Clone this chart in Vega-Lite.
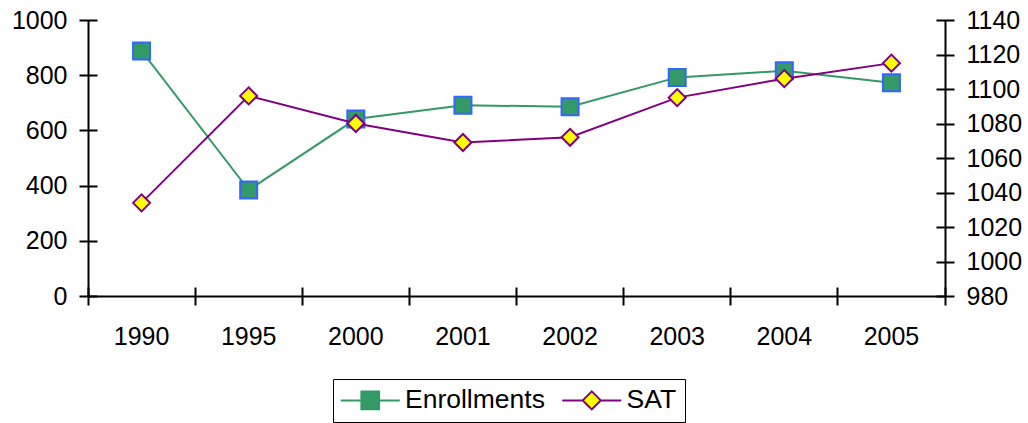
{
  "$schema": "https://vega.github.io/schema/vega-lite/v6.json",
  "width": 857,
  "height": 276,
  "autosize": "none",
  "padding": {"left": 88, "top": 20, "right": 83, "bottom": 127},
  "config": {
    "view": {"stroke": null},
    "font": "Liberation Sans",
    "axis": {
      "domainColor": "black", "domainWidth": 2, "tickColor": "black", "tickWidth": 2,
      "labelColor": "black", "labelFontSize": 25, "grid": false, "title": null
    },
    "legend": {
      "labelFontSize": 26.5, "labelColor": "black", "labelLimit": 500,
      "orient": "none", "legendX": 245, "legendY": 359, "direction": "horizontal",
      "strokeColor": "black", "padding": 8, "labelOffset": 21.5, "symbolOffset": 16, "columnPadding": 12.5,
      "symbolSize": 400, "symbolStrokeWidth": 2, "title": null
    }
  },
  "data": {
    "values": [
      {"year": "1990", "series": "Enrollments", "value": 888},
      {"year": "1995", "series": "Enrollments", "value": 384},
      {"year": "2000", "series": "Enrollments", "value": 641},
      {"year": "2001", "series": "Enrollments", "value": 691},
      {"year": "2002", "series": "Enrollments", "value": 686},
      {"year": "2003", "series": "Enrollments", "value": 792},
      {"year": "2004", "series": "Enrollments", "value": 816},
      {"year": "2005", "series": "Enrollments", "value": 773},
      {"year": "1990", "series": "SAT", "value": 1034},
      {"year": "1995", "series": "SAT", "value": 1096},
      {"year": "2000", "series": "SAT", "value": 1080},
      {"year": "2001", "series": "SAT", "value": 1069},
      {"year": "2002", "series": "SAT", "value": 1072},
      {"year": "2003", "series": "SAT", "value": 1095},
      {"year": "2004", "series": "SAT", "value": 1106},
      {"year": "2005", "series": "SAT", "value": 1115}
    ]
  },
  "layer": [
    {
      "transform": [{"filter": "datum.series === 'Enrollments'"}],
      "layer": [
        {
          "mark": {"type": "line", "strokeWidth": 2},
          "encoding": {
            "x": {"field": "year", "type": "ordinal", "scale": {"type": "band", "paddingInner": 0, "paddingOuter": 0},
              "axis": {"orient": "bottom", "labelAngle": 0, "ticks": false, "tickSize": 0, "labelPadding": 28, "domain": true}},
            "y": {"field": "value", "type": "quantitative", "scale": {"domain": [0, 1000], "nice": false, "zero": false},
              "axis": {"orient": "left", "format": "d", "values": [0, 200, 400, 600, 800, 1000], "ticks": false, "tickSize": 0, "labelPadding": 21}},
            "color": {"field": "series", "type": "nominal", "scale": {"domain": ["Enrollments", "SAT"], "range": ["#339966", "#800080"]},
              "legend": {
                "encoding": {"symbols": {
                  "shape": {"value": {"expr": "datum.value === 'Enrollments' ? 'M-2.95,0H-0.885M0.885,0H2.95M-0.885,-0.885H0.885V0.885H-0.885Z' : 'M-2.95,0H-0.9M0.9,0H2.95M0,-0.9L0.9,0L0,0.9L-0.9,0Z'"}},
                  "strokeWidth": {"value": 2}
                }}
              }}
          }
        },
        {
          "mark": {"type": "point", "filled": true, "size": 289, "strokeWidth": 2, "opacity": 1},
          "encoding": {
            "x": {"field": "year", "type": "ordinal", "scale": {"type": "band", "paddingInner": 0, "paddingOuter": 0},
              "axis": {"orient": "bottom", "bandPosition": 0, "labels": false, "domain": false, "offset": -9, "tickSize": 18}},
            "y": {"field": "value", "type": "quantitative", "scale": {"domain": [0, 1000], "nice": false, "zero": false},
              "axis": {"orient": "left", "values": [0, 200, 400, 600, 800, 1000], "labels": false, "domain": false, "offset": -9, "tickSize": 18}},
            "fill": {"field": "series", "type": "nominal", "scale": {"domain": ["Enrollments", "SAT"], "range": ["#339966", "#FFFF00"]}},
            "stroke": {"field": "series", "type": "nominal", "scale": {"domain": ["Enrollments", "SAT"], "range": ["#3366FF", "#800080"]}},
            "shape": {"field": "series", "type": "nominal", "scale": {"domain": ["SAT", "Enrollments"], "range": ["diamond", "square"]}, "legend": null}
          }
        }
      ],
      "resolve": {"axis": {"x": "independent", "y": "independent"}}
    },
    {
      "transform": [{"filter": "datum.series === 'SAT'"}],
      "layer": [
        {
          "mark": {"type": "line", "strokeWidth": 2},
          "encoding": {
            "x": {"field": "year", "type": "ordinal", "scale": {"type": "band", "paddingInner": 0, "paddingOuter": 0},
              "axis": {"orient": "bottom", "values": ["2005"], "bandPosition": 1, "labels": false, "domain": false, "offset": -9, "tickSize": 18}},
            "y": {"field": "value", "type": "quantitative", "scale": {"domain": [980, 1140], "nice": false, "zero": false},
              "axis": {"orient": "right", "format": "d", "values": [980, 1000, 1020, 1040, 1060, 1080, 1100, 1120, 1140], "ticks": false, "tickSize": 0, "labelPadding": 21}},
            "color": {"field": "series", "type": "nominal", "scale": {"domain": ["Enrollments", "SAT"], "range": ["#339966", "#800080"]}}
          }
        },
        {
          "mark": {"type": "point", "filled": true, "size": 289, "strokeWidth": 2, "opacity": 1},
          "encoding": {
            "x": {"field": "year", "type": "ordinal", "scale": {"type": "band", "paddingInner": 0, "paddingOuter": 0}, "axis": null},
            "y": {"field": "value", "type": "quantitative", "scale": {"domain": [980, 1140], "nice": false, "zero": false},
              "axis": {"orient": "right", "values": [980, 1000, 1020, 1040, 1060, 1080, 1100, 1120, 1140], "labels": false, "domain": false, "offset": -9, "tickSize": 18}},
            "fill": {"field": "series", "type": "nominal", "scale": {"domain": ["Enrollments", "SAT"], "range": ["#339966", "#FFFF00"]}},
            "stroke": {"field": "series", "type": "nominal", "scale": {"domain": ["Enrollments", "SAT"], "range": ["#3366FF", "#800080"]}},
            "shape": {"field": "series", "type": "nominal", "scale": {"domain": ["SAT", "Enrollments"], "range": ["diamond", "square"]}, "legend": null}
          }
        }
      ],
      "resolve": {"axis": {"x": "independent", "y": "independent"}}
    }
  ],
  "resolve": {"scale": {"y": "independent"}, "axis": {"x": "independent", "y": "independent"}}
}
